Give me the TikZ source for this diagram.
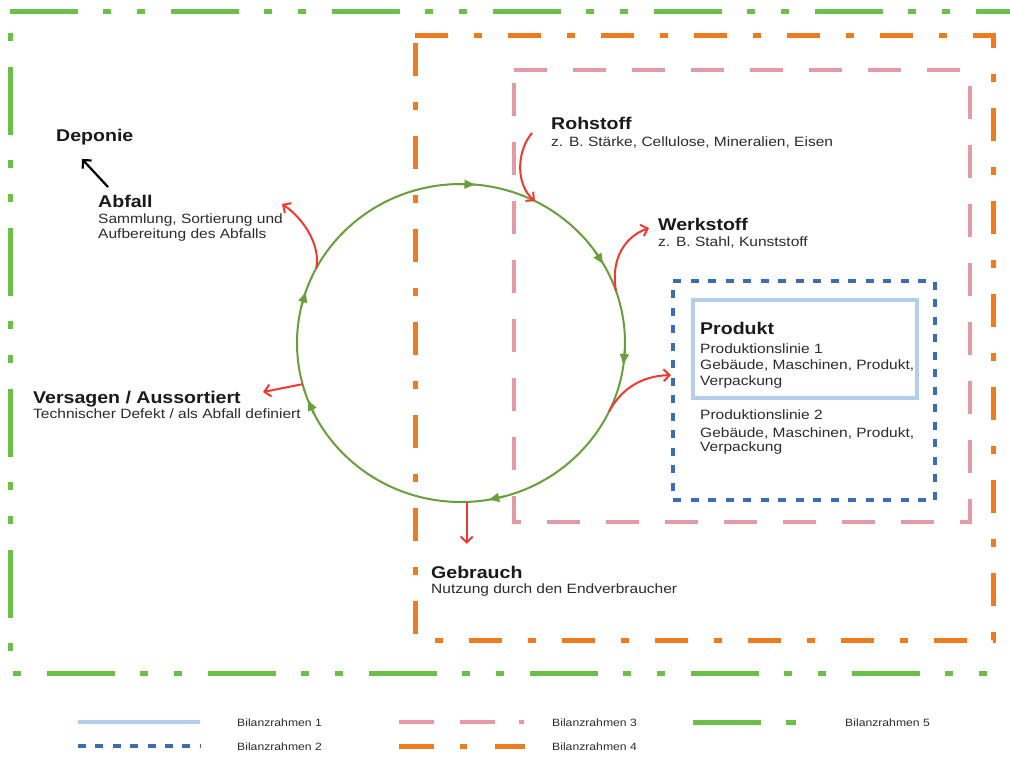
\documentclass[tikz,border=0pt]{standalone}
\usepackage{fontspec}
\setmainfont[FakeStretch=1.15]{Liberation Sans}
\usetikzlibrary{arrows.meta,calc}
\definecolor{fgreen}{HTML}{6CC04A}
\definecolor{forange}{HTML}{F07A1E}
\definecolor{fpink}{HTML}{E39AA6}
\definecolor{fblue}{HTML}{3C6DB4}
\definecolor{flight}{HTML}{B3CDEA}
\definecolor{cgreen}{HTML}{6A9E3C}
\definecolor{cred}{HTML}{EE3A32}
\definecolor{txtdark}{HTML}{1A1A1A}
\definecolor{txtgray}{HTML}{2C2C2C}
\tikzset{
  hd/.style={anchor=base west, inner sep=0pt, font=\fontsize{17}{19}\selectfont\bfseries, text=txtdark},
  sb/.style={anchor=base west, inner sep=0pt, font=\fontsize{13.5}{15}\selectfont, text=txtgray},
  lg/.style={anchor=base west, inner sep=0pt, font=\fontsize{10.6}{12}\selectfont, text=txtgray},
  frgreen/.style={draw=fgreen, line width=5pt, dash pattern=on 68pt off 25pt on 8pt off 26pt on 8pt off 26pt},
  frgreenB/.style={draw=fgreen, line width=5pt, dash pattern=on 8pt off 26pt on 68pt off 25pt on 8pt off 26pt},
  frorange/.style={draw=forange, line width=5pt, dash pattern=on 33pt off 26pt on 8pt off 26pt},
  frpink/.style={draw=fpink, line width=4.5pt, dash pattern=on 33pt off 26pt},
  frblue/.style={draw=fblue, line width=4.5pt, dash pattern=on 8pt off 9.5pt},
  frlight/.style={draw=flight, line width=4pt},
  cyc/.style={draw=cgreen, line width=2pt},
  cycarrow/.style={draw=cgreen, line width=2pt, -{Latex[length=12pt,width=10pt]}},
  redarrow/.style={draw=cred, line width=2pt, -{Straight Barb[length=6pt,width=12pt]}},
  blackarrow/.style={draw=black, line width=2.2pt, -{Straight Barb[length=6pt,width=12pt]}}
}
\begin{document}
\begin{tikzpicture}[x=1pt,y=-1pt]
\useasboundingbox (0,0) rectangle (1010,756);
\fill[white] (0,0) rectangle (1010,756);

% frame 5 (green)
\draw[frgreen] (10,11) -- (1012,11);
\draw[frgreenB] (10,33) -- (10,651);
\draw[frgreenB] (13,673) -- (987,673);
% frame 4 (orange)
\draw[frorange] (415,35) -- (993,35) -- (993,640) -- (415,640) -- cycle;
% frame 3 (pink)
\draw[frpink] (514,70) -- (970,70) -- (970,522) -- (514,522) -- cycle;
% frame 2 (blue dotted)
\draw[frblue] (673,281) -- (935,281) -- (935,500) -- (673,500) -- cycle;
% frame 1 (light blue)
\draw[frlight] (693,300) rectangle (917,398);

% cycle
\coordinate (c) at (461,343);
\draw[cyc] (c) ellipse [x radius=164pt, y radius=159pt];
\foreach \a in {-84.6,-29.3,8.3,80.8,159.5,199.3}{
  \draw[cycarrow] ($(c)+({164*cos(\a-6)},{159*sin(\a-6)})$) -- ($(c)+({164*cos(\a)},{159*sin(\a)})$);
}

% points on cycle
\coordinate (pRoh) at ($(c)+({164*cos(-63.2)},{159*sin(-63.2)})$);
\coordinate (pWerk) at ($(c)+({164*cos(-19)},{159*sin(-19)})$);
\coordinate (pProd) at ($(c)+({164*cos(25.5)},{159*sin(25.5)})$);
\coordinate (pGeb) at ($(c)+({164*cos(88)},{159*sin(88)})$);
\coordinate (pVers) at ($(c)+({164*cos(165)},{159*sin(165)})$);
\coordinate (pAbf) at ($(c)+({164*cos(208)},{159*sin(208)})$);

% texts
\node[hd] (deponie) at (56,141) {Deponie};
\node[hd] (abfall) at (98,207) {Abfall};
\node[sb] (abfallA) at (98,223) {Sammlung, Sortierung und};
\node[sb] (abfallB) at (98,238) {Aufbereitung des Abfalls};
\node[hd] (versagen) at (33,403) {Versagen / Aussortiert};
\node[sb] (versagenA) at (33,418) {Technischer Defekt / als Abfall definiert};
\node[hd] (rohstoff) at (551,129) {Rohstoff};
\node[sb] (rohstoffA) at (551,146) {z. B. Stärke, Cellulose, Mineralien, Eisen};
\node[hd] (werkstoff) at (658,230) {Werkstoff};
\node[sb] (werkstoffA) at (658,246) {z. B. Stahl, Kunststoff};
\node[hd] (produkt) at (700,334) {Produkt};
\node[sb] (prodA) at (700,353) {Produktionslinie 1};
\node[sb] (prodB) at (700,369) {Gebäude, Maschinen, Produkt,};
\node[sb] (prodC) at (700,385) {Verpackung};
\node[sb] (prodD) at (700,419) {Produktionslinie 2};
\node[sb] (prodE) at (700,437) {Gebäude, Maschinen, Produkt,};
\node[sb] (prodF) at (700,451) {Verpackung};
\node[hd] (gebrauch) at (431,578) {Gebrauch};
\node[sb] (gebrauchA) at (431,593) {Nutzung durch den Endverbraucher};

% arrow end coordinates
\coordinate (eRoh) at (532,133);
\coordinate (eWerk) at (649,228);
\coordinate (eProd) at (671,375);
\coordinate (eGeb) at ($(pGeb)+(0,42)$);
\coordinate (eVers) at (263,392);
\coordinate (eAbf) at (282,204);
\coordinate (bA) at (108,187);
\coordinate (bD) at (82,159);

\draw[redarrow] (eRoh) .. controls (516,152) and (516,185) .. (pRoh);
\draw[redarrow] (pWerk) .. controls (610,258) and (626,236) .. (eWerk);
\draw[redarrow] (pProd) .. controls (622,388) and (642,376) .. (eProd);
\draw[redarrow] (pGeb) -- (eGeb);
\draw[redarrow] (pVers) -- (eVers);
\draw[redarrow] (pAbf) .. controls (321,245) and (303,218) .. (eAbf);
\draw[blackarrow] (bA) -- (bD);

% legend
\coordinate (l1a) at (78,722); \coordinate (l1b) at (200,722);
\coordinate (l2a) at (78,746); \coordinate (l2b) at (200,746);
\draw[frlight] (l1a) -- (l1b);
\draw[draw=fblue, line width=4.5pt, dash pattern=on 8pt off 9.4pt] (l2a) -- (l2b);
\node[lg] (leg1) at (237,726) {Bilanzrahmen 1};
\node[lg] (leg2) at (237,750) {Bilanzrahmen 2};
\coordinate (l3a) at (399,722); \coordinate (l3b) at (524,722);
\draw[draw=fpink, line width=4.5pt, dash pattern=on 35pt off 26pt on 35pt off 24pt on 5pt off 30pt] (l3a) -- (l3b);
\node[lg] (leg3) at (552,726) {Bilanzrahmen 3};
\coordinate (l4a) at (399,746); \coordinate (l4b) at (525,746);
\draw[draw=forange, line width=5pt, dash pattern=on 35pt off 26pt on 7pt off 28pt on 30pt off 30pt] (l4a) -- (l4b);
\node[lg] (leg4) at (552,750) {Bilanzrahmen 4};
\coordinate (l5a) at (693,722); \coordinate (l5b) at (796,722);
\draw[draw=fgreen, line width=5pt, dash pattern=on 68pt off 25pt on 10pt off 30pt] (l5a) -- (l5b);
\node[lg] (leg5) at (845,726) {Bilanzrahmen 5};
\end{tikzpicture}
\end{document}
